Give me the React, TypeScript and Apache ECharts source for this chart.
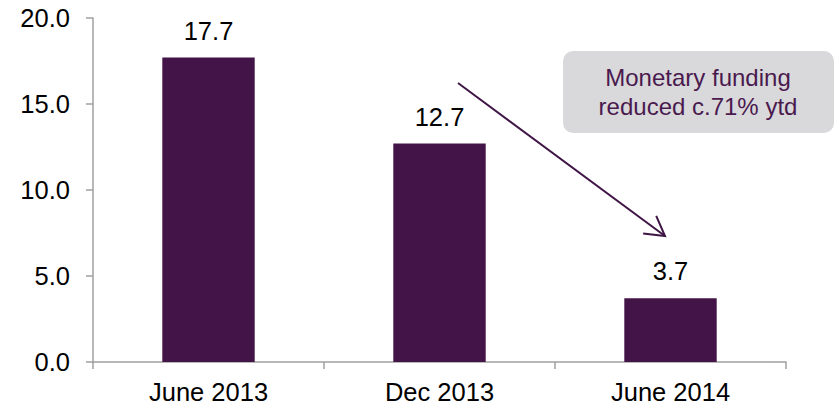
import React, { useEffect, useRef } from "react";
import * as echarts from "echarts";

const categories = ["June 2013", "Dec 2013", "June 2014"];
const values = [17.7, 12.7, 3.7];
const yTicks = { min: 0, max: 20, interval: 5 };
const noteLines = ["Monetary funding", "reduced c.71% ytd"];

const FONT = "'Liberation Sans', Arial, sans-serif";
const BAR = "#431447";
const AXIS = "#a0a0a0";
const FS = 25.5;

export default function App() {
  const ref = useRef<HTMLDivElement>(null);
  useEffect(() => {
    if (!ref.current) return;
    const chart = echarts.init(ref.current, undefined, { renderer: "svg" });
    // arrow geometry
    const x1 = 458, y1 = 83, x2 = 665, y2 = 236;
    const ang = Math.atan2(y1 - y2, x1 - x2);
    const L = 22, spread = (30 * Math.PI) / 180;
    const a1 = [x2 + L * Math.cos(ang - spread), y2 + L * Math.sin(ang - spread)];
    const a2 = [x2 + L * Math.cos(ang + spread), y2 + L * Math.sin(ang + spread)];
    chart.setOption({
      animation: false,
      grid: { left: 93, right: 50, top: 18, bottom: 46, containLabel: false },
      xAxis: {
        type: "category",
        data: categories,
        boundaryGap: true,
        axisLine: { show: true, lineStyle: { color: AXIS, width: 1.5 } },
        axisTick: { show: true, length: 7, alignWithLabel: false, lineStyle: { color: AXIS, width: 1.5 } },
        axisLabel: { color: "#000", fontSize: FS, fontFamily: FONT, margin: 17 },
      },
      yAxis: {
        type: "value",
        min: yTicks.min,
        max: yTicks.max,
        interval: yTicks.interval,
        axisLine: { show: true, lineStyle: { color: AXIS, width: 1.5 } },
        axisTick: { show: true, length: 7, inside: false, lineStyle: { color: AXIS, width: 1.5 } },
        splitLine: { show: false },
        axisLabel: {
          color: "#000",
          fontSize: FS,
          fontFamily: FONT,
          margin: 23,
          formatter: (v: number) => v.toFixed(1),
        },
      },
      series: [
        {
          type: "bar",
          data: values,
          barWidth: "40%",
          itemStyle: { color: BAR },
          label: {
            show: true,
            position: "top",
            distance: 14,
            color: "#000",
            fontSize: FS,
            fontFamily: FONT,
            formatter: (p: any) => Number(p.value).toFixed(1),
          },
        },
      ],
      graphic: [
        {
          type: "rect",
          shape: { x: 563, y: 51, width: 271, height: 82, r: 10 },
          style: { fill: "#d9d9dc" },
        },
        {
          type: "text",
          x: 698,
          y: 92,
          style: {
            text: noteLines.join("\n"),
            fill: "#4a1a4e",
            font: `24px ${FONT}`,
            align: "center",
            verticalAlign: "middle",
            lineHeight: 29,
          },
        },
        {
          type: "line",
          shape: { x1, y1, x2, y2 },
          style: { stroke: "#3f1545", lineWidth: 2 },
        },
        {
          type: "polyline",
          shape: { points: [a1, [x2, y2], a2] },
          style: { stroke: "#3f1545", lineWidth: 2, fill: null },
        },
      ],
    });
    return () => chart.dispose();
  }, []);
  return (
    <div
      ref={ref}
      style={{ position: "fixed", left: 0, top: 0, width: 836, height: 408, background: "#fff" }}
    />
  );
}
